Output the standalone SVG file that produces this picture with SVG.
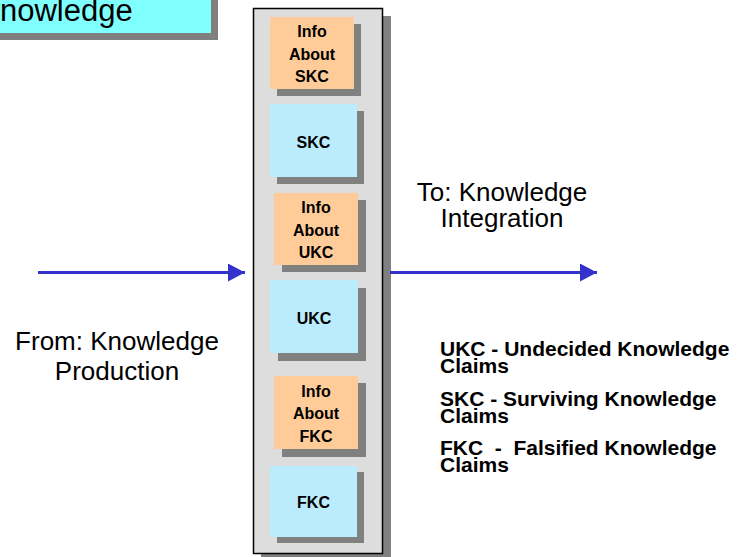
<svg xmlns="http://www.w3.org/2000/svg" width="740" height="557" viewBox="0 0 740 557">
<defs>
<style>
.sh{fill:#808080}
.org{fill:#FFCC99}
.blu{fill:#BBECFD}
.bt{font-family:"Liberation Sans",Arial,sans-serif;font-weight:bold;font-size:16px;fill:#000;text-anchor:middle}
.lt{font-family:"Liberation Sans",Arial,sans-serif;font-size:26px;fill:#000;text-anchor:middle}
.lg{font-family:"Liberation Sans",Arial,sans-serif;font-weight:bold;font-size:21px;fill:#000;white-space:pre}
.ar{stroke:#3333CC;stroke-width:3;fill:none}
</style>
<marker id="ah" markerUnits="userSpaceOnUse" markerWidth="20" markerHeight="20" refX="17" refY="9" orient="auto">
<path d="M0,0 L17,9 L0,18 Z" fill="#3333CC"/>
</marker>
</defs>
<rect width="740" height="557" fill="#fff"/>
<g id="title">
<rect class="sh" x="-3" y="-3" width="221" height="43"/>
<rect x="-10" y="-10" width="221" height="43" fill="#80FFFF"/>
<text x="0" y="21" font-family="Liberation Sans, Arial, sans-serif" font-size="31" fill="#000">nowledge</text>
</g>
<g id="container">
<rect class="sh" x="261" y="16" width="130" height="545"/>
<rect x="253.5" y="8.5" width="129" height="545" fill="#DDDDDD" stroke="#000" stroke-width="1.5"/>
</g>
<g id="info-skc">
<rect class="sh" x="277" y="24" width="84" height="72"/>
<rect class="org" x="270" y="17" width="84" height="72"/>
<text class="bt" x="312" y="37">Info</text>
<text class="bt" x="312" y="60">About</text>
<text class="bt" x="312" y="82">SKC</text>
</g>
<g id="skc">
<rect class="sh" x="277" y="111" width="87" height="73"/>
<rect class="blu" x="270" y="104" width="87" height="73"/>
<text class="bt" x="313.5" y="148">SKC</text>
</g>
<g id="info-ukc">
<rect class="sh" x="282" y="200" width="84" height="72"/>
<rect class="org" x="274" y="193" width="84" height="72"/>
<text class="bt" x="316" y="213">Info</text>
<text class="bt" x="316" y="236">About</text>
<text class="bt" x="316" y="258">UKC</text>
</g>
<g id="ukc">
<rect class="sh" x="278" y="288" width="88" height="73"/>
<rect class="blu" x="270" y="280" width="88" height="73"/>
<text class="bt" x="314" y="324">UKC</text>
</g>
<g id="info-fkc">
<rect class="sh" x="282" y="383" width="84" height="74"/>
<rect class="org" x="274" y="376" width="84" height="73"/>
<text class="bt" x="316" y="397">Info</text>
<text class="bt" x="316" y="419">About</text>
<text class="bt" x="316" y="442">FKC</text>
</g>
<g id="fkc">
<rect class="sh" x="277" y="472" width="87" height="71"/>
<rect class="blu" x="270" y="466" width="87" height="71"/>
<text class="bt" x="313.5" y="508">FKC</text>
</g>
<g id="connectors">
<line class="ar" x1="38" y1="272.5" x2="245" y2="272.5" marker-end="url(#ah)"/>
<line class="ar" x1="390" y1="272.5" x2="597" y2="272.5" marker-end="url(#ah)"/>
</g>
<g id="labels">
<text class="lt" x="117" y="350">From: Knowledge</text>
<text class="lt" x="117" y="380">Production</text>
<text class="lt" x="502" y="201" font-size="27">To: Knowledge</text>
<text class="lt" x="502" y="227" font-size="27">Integration</text>
</g>
<g id="legend">
<text class="lg" x="440" y="356">UKC - Undecided Knowledge</text>
<text class="lg" x="440" y="373">Claims</text>
<text class="lg" x="440" y="406">SKC - Surviving Knowledge</text>
<text class="lg" x="440" y="423">Claims</text>
<text class="lg" x="440" y="455">FKC  -  Falsified Knowledge</text>
<text class="lg" x="440" y="472">Claims</text>
</g>
</svg>
